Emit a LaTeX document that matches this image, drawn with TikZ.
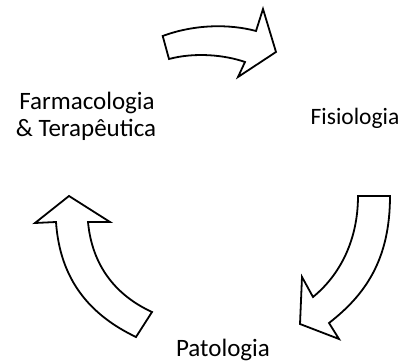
\documentclass[tikz,border=0pt]{standalone}
\usepackage{fontspec}
\setmainfont{Carlito}
\begin{document}
\begin{tikzpicture}[x=1pt,y=-1pt,
  blockarrow/.style={draw=black,fill=white,line width=1.8pt,line join=miter},
  label/.style={inner sep=0pt,anchor=base}]
\useasboundingbox (0,0) rectangle (407,363);
% top arrow
\path[blockarrow] (162.7,36) .. controls (195,24) and (230,24) .. (256,31) -- (263,9) -- (276,52) -- (238,77) -- (245,62) .. controls (225,55) and (195,52) .. (169,59) -- cycle;
% right arrow
\path[blockarrow] (358,196) -- (390,196) .. controls (390,260) and (365,295) .. (329,323) -- (339,339) -- (300,324) -- (302,277) -- (313,297) .. controls (340,275) and (358,240) .. (358,196) -- cycle;
% left arrow
\path[blockarrow] (69,196) -- (110,222) -- (88,222) .. controls (92,265) and (115,295) .. (152,312) -- (136,337) .. controls (90,315) and (60,280) .. (56,222) -- (35,223) -- cycle;
\node[label,font=\fontsize{25}{27}\selectfont] (farm1) at (87,110) {Farmacologia};
\node[label,font=\fontsize{25}{27}\selectfont] (farm2) at (86,136.7) {\& Terapêutica};
\node[label,font=\fontsize{23.5}{26}\selectfont] (fis) at (355,125) {Fisiologia};
\node[label,font=\fontsize{25}{27}\selectfont] (pat) at (223,356.7) {Patologia};
\end{tikzpicture}
\end{document}
